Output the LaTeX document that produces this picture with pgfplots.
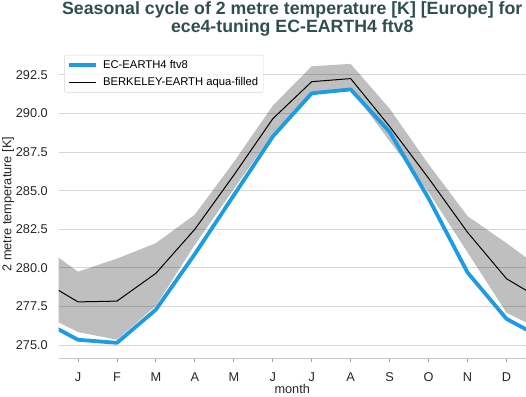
\documentclass[border=0pt]{standalone}
\usepackage{fontspec}
\setmainfont{Liberation Sans}
\usepackage{pgfplots}
\usepackage{pgfplotstable}
\pgfplotsset{compat=1.18}
\usepgfplotslibrary{fillbetween}
\usetikzlibrary{calc}
\definecolor{ecblue}{RGB}{30,155,225}
\definecolor{titlecol}{RGB}{47,79,79}
\definecolor{gridc}{RGB}{215,215,215}
\definecolor{spinec}{RGB}{200,200,200}

% month 0 = Dec, month 13 = Jan (cyclic wrap, clipped at 0.5 and 12.5)
\pgfplotstableread{
m    ec      obs     lo      hi
0    276.70  279.30  277.10  281.60
1    275.35  277.80  275.85  279.75
2    275.15  277.85  275.35  280.60
3    277.30  279.65  277.55  281.60
4    280.90  282.50  281.50  283.45
5    284.70  286.00  285.10  286.85
6    288.50  289.65  288.70  290.50
7    291.30  292.05  291.35  293.05
8    291.55  292.25  291.60  293.20
9    288.80  289.15  288.20  290.30
10   284.50  285.80  284.90  286.70
11   279.70  282.30  281.00  283.35
12   276.70  279.30  277.10  281.60
13   275.35  277.80  275.85  279.75
}\datatab

\begin{document}
\begin{tikzpicture}
\begin{axis}[
  scale only axis,
  width=467.5bp, height=308.3bp,
  xmin=0.5, xmax=12.5,
  ymin=274.15, ymax=294.1,
  axis x line*=bottom,
  axis y line*=left,
  x axis line style={spinec, line width=1bp, -},
  y axis line style={draw=none},
  xtick={1,2,3,4,5,6,7,8,9,10,11,12},
  xticklabels={J,F,M,A,M,J,J,A,S,O,N,D},
  ytick={275,277.5,280,282.5,285,287.5,290,292.5},
  /pgf/number format/assume math mode=true,
  tick align=outside,
  x tick style={spinec!80!black, line width=0.8bp},
  major tick length=4bp,
  ytick style={draw=none},
  ymajorgrids,
  grid style={gridc, line width=0.9bp},
  tick label style={font=\fontsize{12.8}{14}\selectfont, text=black!85},
  yticklabel style={/pgf/number format/fixed, /pgf/number format/fixed zerofill, /pgf/number format/precision=1, anchor=east, inner sep=0pt, xshift=-6.5bp},
  xticklabel style={anchor=base, inner sep=0pt, yshift=-19.5bp},
  xlabel={month},
  ylabel={2 metre temperature [K]},
  label style={font=\fontsize{12.8}{14}\selectfont, text=black!85},
  xlabel style={at={(axis description cs:0.5,0)}, anchor=center, yshift=-31bp},
  ylabel style={at={(axis description cs:-0.108,0.5)}, anchor=center},
  title={Seasonal cycle of 2 metre temperature [K] [Europe] for\\ece4-tuning EC-EARTH4 ftv8},
  title style={at={(axis description cs:0.5,1)}, anchor=south, inner sep=0pt, yshift=8bp,
    align=center, font=\fontsize{17.8}{18}\selectfont\bfseries, text=titlecol},
  legend style={at={(0.012,0.984)}, anchor=north west, rounded corners=2bp,
    draw=gridc, fill=white, fill opacity=0.8, text opacity=1,
    font=\fontsize{11.3}{13}\selectfont, inner xsep=3bp, inner ysep=3bp,
    row sep=4bp},
  legend cell align=left,
  legend image code/.code={\draw[#1] (0bp,0bp) -- (27bp,0bp); \path (30bp,0bp);},
]
\addplot[draw=none, name path=hi, forget plot] table[x=m, y=hi]{\datatab};
\addplot[draw=none, name path=lo, forget plot] table[x=m, y=lo]{\datatab};
\addplot[black, fill opacity=0.25, draw=none, forget plot] fill between[of=hi and lo];
\addplot[ecblue, line width=3.8bp, line join=round] table[x=m, y=ec]{\datatab};
\addlegendentry{EC-EARTH4 ftv8}
\addplot[black, line width=1bp, line join=round] table[x=m, y=obs]{\datatab};
\addlegendentry{BERKELEY-EARTH aqua-filled}
\end{axis}
\pgfresetboundingbox
\path ($(current axis.south west)+(-58.5bp,-38.7bp)$) rectangle ($(current axis.north east)+(0bp,50bp)$);
\end{tikzpicture}
\end{document}
